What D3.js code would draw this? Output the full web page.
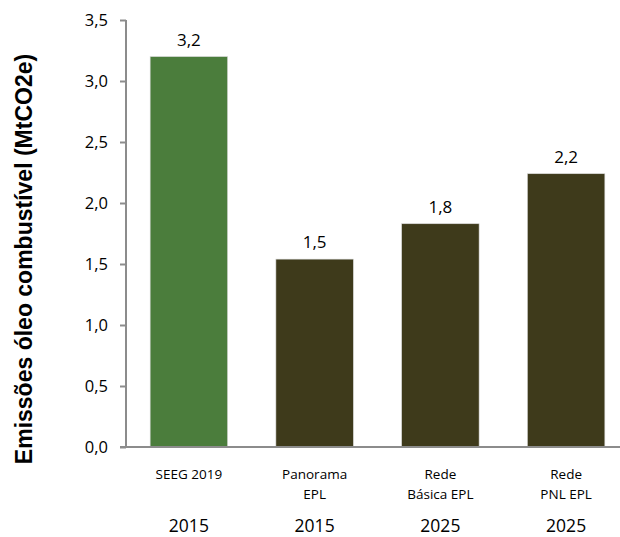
<!DOCTYPE html>
<html>
<head>
<meta charset="utf-8">
<script src="https://cdn.jsdelivr.net/npm/d3@7"></script>
<style>
  html, body { margin: 0; padding: 0; background: #fff; }
  svg { display: block; }
</style>
</head>
<body>
<svg id="chart" width="620" height="537"></svg>
<script>
// Emissions from fuel oil by source (MtCO2e)
const categories = [["SEEG 2019"], ["Panorama", "EPL"], ["Rede", "Básica EPL"], ["Rede", "PNL EPL"]];
const years = ["2015", "2015", "2025", "2025"];
const values = [3.2, 1.54, 1.83, 2.24];
const barColors = ["#4b7d3c", "#3e3a1b", "#3e3a1b", "#3e3a1b"];
const yTicks = [0, 0.5, 1.0, 1.5, 2.0, 2.5, 3.0, 3.5];
const yTitle = "Emissões óleo combustível (MtCO2e)";

const svg = d3.select("#chart");
const plotLeft = 126, plotRight = 629, plotTop = 20, plotBottom = 447;
const fmt = v => d3.format(".1f")(v).replace(".", ",");
const bodyFont = "'Open Sans', 'Liberation Sans', sans-serif";

const x = d3.scaleBand()
  .domain(d3.range(values.length))
  .range([plotLeft, plotRight])
  .paddingInner(0.384)
  .paddingOuter(0.192);

const y = d3.scaleLinear().domain([0, 3.5]).range([plotBottom, plotTop]);

// Bars
svg.append("g").selectAll("rect")
  .data(values)
  .join("rect")
  .attr("x", (d, i) => x(i))
  .attr("y", d => y(d))
  .attr("width", x.bandwidth())
  .attr("height", d => y(0) - y(d))
  .attr("fill", (d, i) => barColors[i])
  .attr("stroke", "#d9d9d9")
  .attr("stroke-width", 0.6);

// Y axis
const yAxis = d3.axisLeft(y)
  .tickValues(yTicks)
  .tickFormat(fmt)
  .tickSize(6)
  .tickPadding(12);
const gy = svg.append("g").attr("transform", `translate(${plotLeft},0)`).call(yAxis);
gy.select(".domain").attr("stroke", "#8c8c8c").attr("stroke-width", 2).attr("d", `M0,${plotTop}V${plotBottom}`);
gy.selectAll(".tick line").attr("stroke", "#8c8c8c").attr("stroke-width", 2);
gy.selectAll(".tick text")
  .attr("fill", "#000")
  .style("font-family", bodyFont)
  .style("font-size", "16.5px");

// X axis baseline
svg.append("line")
  .attr("x1", plotLeft - 6).attr("x2", 620)
  .attr("y1", y(0)).attr("y2", y(0))
  .attr("stroke", "#8c8c8c").attr("stroke-width", 2);

// Value labels
svg.append("g").selectAll("text")
  .data(values)
  .join("text")
  .attr("x", (d, i) => x(i) + x.bandwidth() / 2)
  .attr("y", d => y(d) - 11)
  .attr("text-anchor", "middle")
  .style("font-family", bodyFont)
  .style("font-size", "17px")
  .attr("fill", "#000")
  .text(fmt);

// Category labels
const catG = svg.append("g");
categories.forEach((lines, i) => {
  const t = catG.append("text")
    .attr("x", x(i) + x.bandwidth() / 2)
    .attr("y", 479)
    .attr("text-anchor", "middle")
    .style("font-family", bodyFont)
    .style("font-size", "13.5px")
    .attr("fill", "#000");
  lines.forEach((ln, j) => {
    t.append("tspan")
      .attr("x", x(i) + x.bandwidth() / 2)
      .attr("dy", j === 0 ? 0 : 19.5)
      .text(ln);
  });
});

// Year labels
svg.append("g").selectAll("text")
  .data(years)
  .join("text")
  .attr("x", (d, i) => x(i) + x.bandwidth() / 2)
  .attr("y", 532)
  .attr("text-anchor", "middle")
  .style("font-family", bodyFont)
  .style("font-size", "17.5px")
  .attr("fill", "#000")
  .text(d => d);

// Y axis title
svg.append("text")
  .attr("transform", "translate(32,259) rotate(-90)")
  .attr("text-anchor", "middle")
  .style("font-family", "'Liberation Sans', Arial, sans-serif")
  .style("font-weight", "bold")
  .style("font-size", "23px")
  .attr("fill", "#000")
  .text(yTitle);
</script>
</body>
</html>
